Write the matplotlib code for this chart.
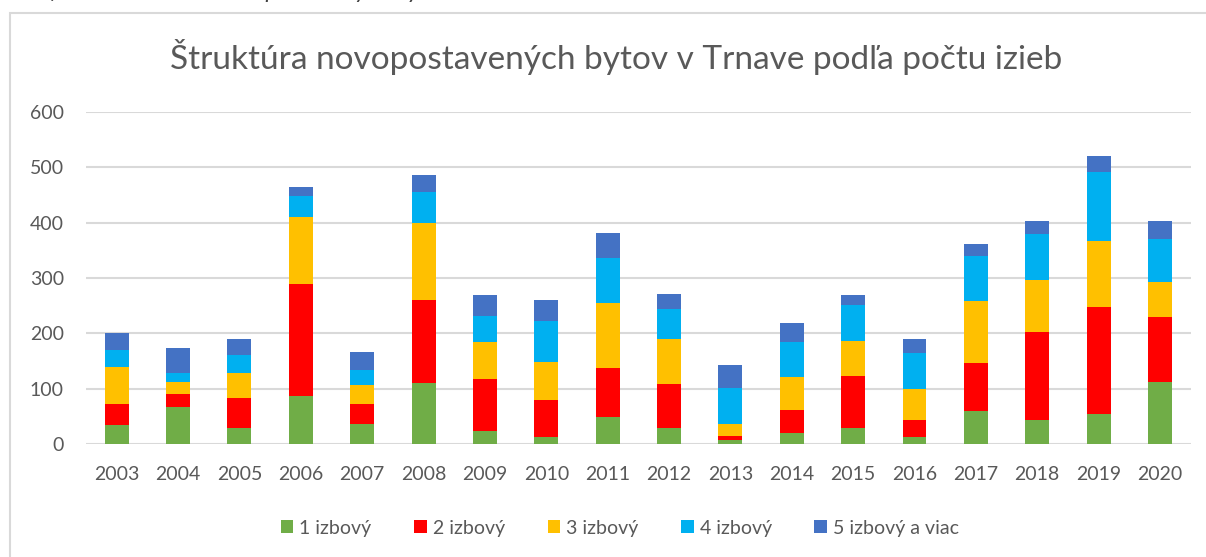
import numpy as np
import matplotlib.pyplot as plt
from matplotlib.patches import Patch, Rectangle

# Data (number of new flats per year)
years = [str(y) for y in range(2003, 2021)]
izb1 = [35, 66, 29, 87, 36, 111, 23, 13, 49, 28, 7, 19, 28, 13, 60, 43, 55, 112]
izb2 = [37, 24, 54, 203, 36, 150, 95, 67, 89, 80, 8, 43, 95, 31, 86, 159, 193, 117]
izb3 = [67, 22, 45, 121, 35, 138, 66, 68, 116, 82, 21, 59, 63, 55, 113, 94, 119, 63]
izb4 = [31, 16, 32, 37, 26, 56, 47, 74, 83, 54, 66, 63, 66, 65, 80, 84, 125, 78]
izb5 = [30, 45, 29, 16, 33, 32, 39, 38, 45, 27, 41, 35, 17, 25, 22, 23, 29, 33]

series = [izb1, izb2, izb3, izb4, izb5]
labels = ['1 izbový', '2 izbový', '3 izbový', '4 izbový', '5 izbový a viac']
colors = ['#70AD47', '#FF0000', '#FFC000', '#00B0F0', '#4472C4']

plt.rcParams['font.family'] = ['Lato', 'DejaVu Sans']
txt_col = '#595959'

fig = plt.figure(figsize=(12.06, 5.57), dpi=100)
ax = fig.add_axes([0.0713, 0.2029, 0.916, 0.596])

x = np.arange(len(years))
bottom = np.zeros(len(years))
for vals, lab, col in zip(series, labels, colors):
    ax.bar(x, vals, width=0.39, bottom=bottom, color=col, label=lab, zorder=3)
    bottom += np.array(vals)

ax.set_xlim(-0.5, len(years) - 0.5)
ax.set_ylim(0, 600)
ax.set_yticks(range(0, 601, 100))
ax.set_xticks(x)
ax.set_xticklabels(years)
ax.grid(axis='y', color='#D9D9D9', linewidth=1.5, zorder=0)
for s in ax.spines.values():
    s.set_visible(False)
ax.tick_params(axis='both', length=0, labelsize=14, colors=txt_col)
ax.tick_params(axis='y', pad=16)
ax.tick_params(axis='x', pad=16)

fig.text(0.511, 0.897, 'Štruktúra novopostavených bytov v Trnave podľa počtu izieb',
         ha='center', va='center', fontsize=24, color=txt_col)

handles = [Patch(facecolor=c, edgecolor='none') for c in colors]
fig.legend(handles, labels, loc='center', bbox_to_anchor=(0.514, 0.052), ncol=5,
           frameon=False, fontsize=14, handlelength=0.65, handleheight=0.65,
           handletextpad=0.3, columnspacing=2.2, labelcolor=txt_col)

# chart border (cut off on the right and bottom like the screenshot)
fig.patches.append(Rectangle((10 / 1206, -0.05), 1.2, 1 - 13 / 557 + 0.05,
                             transform=fig.transFigure, fill=False,
                             edgecolor='#D9D9D9', linewidth=1.5))

# caption above the chart, cropped at the top edge as in the screenshot
fig.text(0.012, 1 + 1.5 / 557, 'Graf č. 12 Štruktúra novopostavených bytov',
         ha='left', va='baseline', fontsize=17, style='italic', color='#404040')

fig.savefig('out.png', dpi=100)
